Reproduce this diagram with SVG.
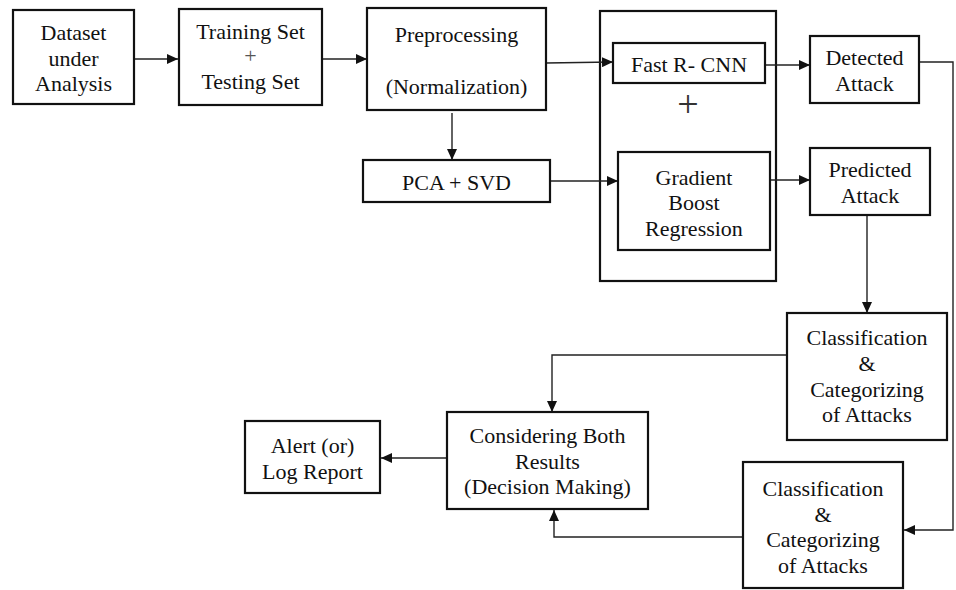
<svg xmlns="http://www.w3.org/2000/svg" width="956" height="590" viewBox="0 0 956 590" font-family="'Liberation Serif', 'Times New Roman', Times, 'DejaVu Serif', serif">
<style>
.box{fill:#fff;stroke:#111;stroke-width:2.2}
.t{font-family:'Liberation Serif','Times New Roman',Times,'DejaVu Serif',serif;font-size:22px;fill:#111;text-anchor:middle}
.c{fill:none;stroke:#222;stroke-width:1.4}
</style>
<defs>
<marker id="ah" markerUnits="userSpaceOnUse" markerWidth="11" markerHeight="10" refX="11" refY="5" orient="auto">
<path d="M0,0 L11,5 L0,10 z" fill="#111"/>
</marker>
</defs>
<rect width="956" height="590" fill="#fff"/>
<g id="model">
<rect x="600" y="11" width="176" height="270" fill="none" stroke="#111" stroke-width="2.2"/>
<text class="t" x="688" y="117" style="font-size:38px;fill:#333">+</text>
</g>
<g id="connectors">
<path class="c" d="M134,59 H178" marker-end="url(#ah)"/>
<path class="c" d="M322,59 H367" marker-end="url(#ah)"/>
<path class="c" d="M452,113 V160" marker-end="url(#ah)"/>
<path class="c" d="M546,63 L613,62" marker-end="url(#ah)"/>
<path class="c" d="M550,181 H618" marker-end="url(#ah)"/>
<path class="c" d="M765,65 H810" marker-end="url(#ah)"/>
<path class="c" d="M770,180 H810" marker-end="url(#ah)"/>
<path class="c" d="M867,215 V313" marker-end="url(#ah)"/>
<path class="c" d="M919,62 H953 V530 H904" marker-end="url(#ah)"/>
<path class="c" d="M787,355 H552 V412" marker-end="url(#ah)"/>
<path class="c" d="M743,537 H554 V510" marker-end="url(#ah)"/>
<path class="c" d="M447,458 H381" marker-end="url(#ah)"/>
</g>
<g id="dataset">
<rect class="box" x="13" y="10" width="121" height="94"/>
<text class="t" x="73.5" y="40">Dataset</text>
<text class="t" x="73.5" y="66">under</text>
<text class="t" x="73.5" y="91">Analysis</text>
</g>
<g id="training">
<rect class="box" x="179" y="9" width="143" height="96"/>
<text class="t" x="250.5" y="39">Training Set</text>
<text class="t" x="250.5" y="63" style="fill:#555">+</text>
<text class="t" x="250.5" y="89">Testing Set</text>
</g>
<g id="preprocessing">
<rect class="box" x="367" y="8" width="179" height="102"/>
<text class="t" x="456.5" y="42">Preprocessing</text>
<text class="t" x="456.5" y="94">(Normalization)</text>
</g>
<g id="pca">
<rect class="box" x="363" y="160" width="187" height="42"/>
<text class="t" x="456.5" y="190">PCA + SVD</text>
</g>
<g id="fastrcnn">
<rect class="box" x="613" y="43" width="152" height="40"/>
<text class="t" x="689" y="72">Fast R- CNN</text>
</g>
<g id="gradient">
<rect class="box" x="618" y="152" width="152" height="98"/>
<text class="t" x="694" y="185">Gradient</text>
<text class="t" x="694" y="210">Boost</text>
<text class="t" x="694" y="236">Regression</text>
</g>
<g id="detected">
<rect class="box" x="810" y="36" width="109" height="67"/>
<text class="t" x="864.5" y="65">Detected</text>
<text class="t" x="864.5" y="91">Attack</text>
</g>
<g id="predicted">
<rect class="box" x="810" y="148" width="120" height="67"/>
<text class="t" x="870" y="177">Predicted</text>
<text class="t" x="870" y="203">Attack</text>
</g>
<g id="classification1">
<rect class="box" x="787" y="313" width="160" height="127"/>
<text class="t" x="867" y="345">Classification</text>
<text class="t" x="867" y="371">&amp;</text>
<text class="t" x="867" y="397">Categorizing</text>
<text class="t" x="867" y="422">of Attacks</text>
</g>
<g id="classification2">
<rect class="box" x="743" y="462" width="160" height="126"/>
<text class="t" x="823" y="496">Classification</text>
<text class="t" x="823" y="522">&amp;</text>
<text class="t" x="823" y="547">Categorizing</text>
<text class="t" x="823" y="573">of Attacks</text>
</g>
<g id="considering">
<rect class="box" x="447" y="412" width="201" height="97"/>
<text class="t" x="547.5" y="443">Considering Both</text>
<text class="t" x="547.5" y="469">Results</text>
<text class="t" x="547.5" y="494">(Decision Making)</text>
</g>
<g id="alert">
<rect class="box" x="245" y="421" width="135" height="72"/>
<text class="t" x="312.5" y="453">Alert (or)</text>
<text class="t" x="312.5" y="479">Log Report</text>
</g>
</svg>
